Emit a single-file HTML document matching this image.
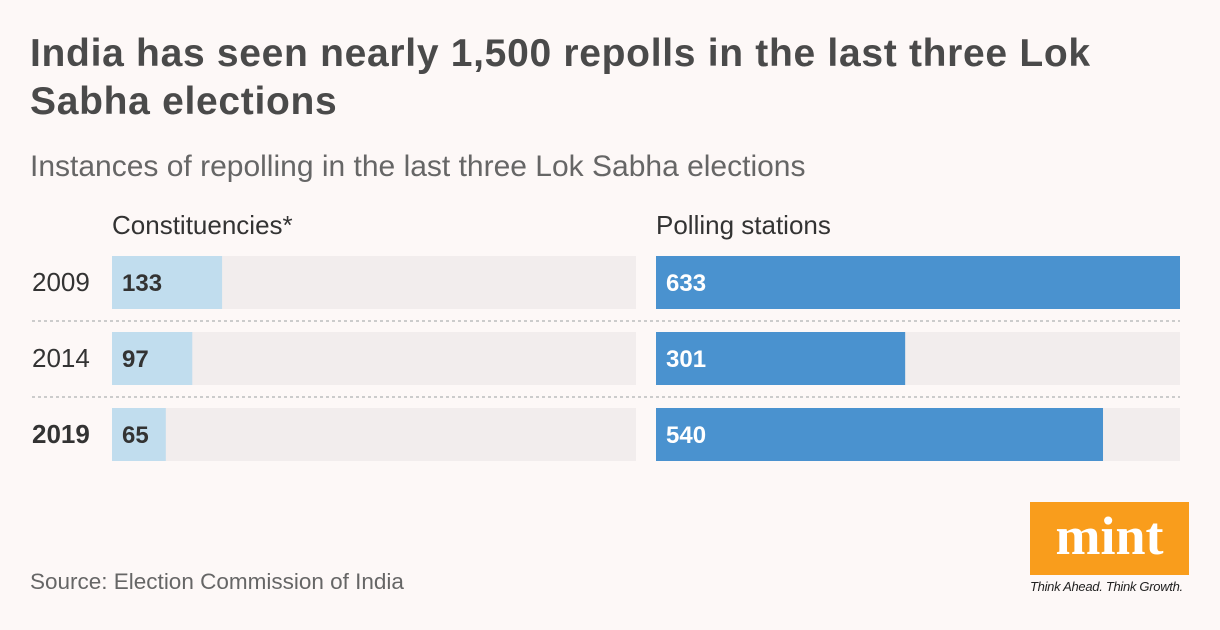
<!DOCTYPE html>
<html><head><meta charset="utf-8"><style>
body{margin:0;width:1220px;height:630px;background:#fdf8f7;font-family:"Liberation Sans",sans-serif;position:relative;overflow:hidden;color:#333}
.t{position:absolute;left:30px;top:30px;font-size:39px;font-weight:bold;color:#4a4a4a;line-height:48px;letter-spacing:0.7px;width:1110px}
.s{position:absolute;left:30px;top:150px;font-size:30px;color:#666}
.h{position:absolute;top:210px;font-size:26px;color:#333}
.src{position:absolute;left:30px;top:569px;font-size:22.5px;color:#666}
</style></head><body>
<div class="t">India has seen nearly 1,500 repolls in the last three Lok<br>Sabha elections</div>
<div class="s">Instances of repolling in the last three Lok Sabha elections</div>
<div class="h" style="left:112px">Constituencies*</div>
<div class="h" style="left:656px">Polling stations</div>
<svg id="c" width="1220" height="630" style="position:absolute;left:0;top:0"></svg>
<div class="src">Source: Election Commission of India</div>
<div style="position:absolute;left:1030px;top:502px;width:159px;height:73px;background:#f99d1c"><div style="text-align:center;color:#fff;font-family:'Liberation Serif',serif;font-weight:bold;font-size:54px;line-height:68px">mint</div></div>
<div style="position:absolute;left:1030px;top:579px;font-size:13px;font-style:italic;color:#222;letter-spacing:-0.3px">Think Ahead. Think Growth.</div>
<script>
const years=["2009","2014","2019"];
const constituencies=[133,97,65];
const stations=[633,301,540];
const maxV=633;
const svg=document.getElementById('c');const ns='http://www.w3.org/2000/svg';
function mk(t,a){const e=document.createElementNS(ns,t);for(const k in a)e.setAttribute(k,a[k]);svg.appendChild(e);return e;}
const W=524;const sx=v=>v/maxV*W;
const rowY=i=>256+i*76;
years.forEach((y,i)=>{
 const yy=rowY(i);
 const lab=mk('text',{x:32,y:yy+35,'font-size':26,fill:'#333','font-weight':i==2?'bold':'normal'});lab.textContent=y;
 
 
 [[112,constituencies[i],'#c1ddee','#333'],[656,stations[i],'#4a92cf','#fff']].forEach(([x0,v,col,tc])=>{
  const bg=mk('rect',{x:x0,y:yy,width:W,height:53,fill:'#f2eded'});
  
  
  const r=mk('rect',{x:x0,y:yy,width:sx(v),height:53,fill:col});
  
  
  const t=mk('text',{x:x0+10,y:yy+35,'font-size':24,'font-weight':'bold',fill:tc});t.textContent=v;
  
  
 });
 if(i<2){const l=mk('line',{x1:32,x2:1180,y1:yy+65,y2:yy+65,stroke:'#ccc','stroke-width':2,'stroke-dasharray':'3,3'});
 
 }
});
</script>
</body></html>
